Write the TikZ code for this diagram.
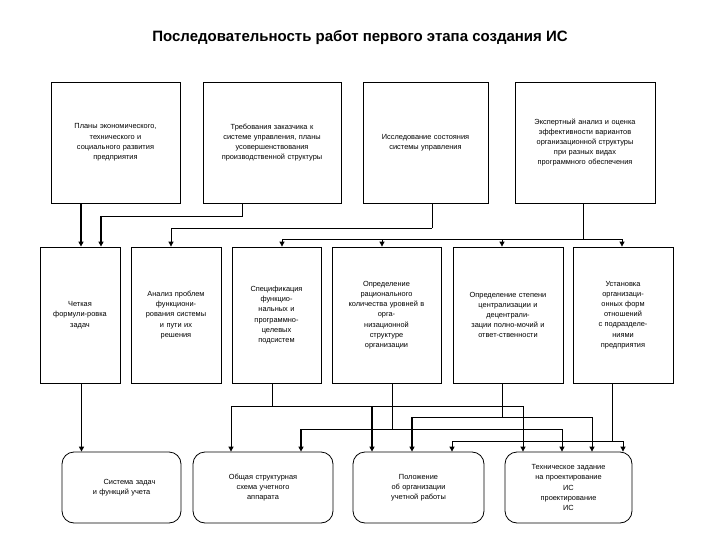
\documentclass[tikz,border=0pt]{standalone}
\usepackage{fontspec}
\setmainfont{Liberation Sans}
\usetikzlibrary{arrows.meta}
\begin{document}
\begin{tikzpicture}[x=1pt,y=-1pt,
  box/.style={draw,line width=0.8pt,align=center,inner sep=2pt,font=\fontsize{7.4}{10.2}\selectfont},
  rbox/.style={box,rounded corners=12pt},
  ln/.style={line width=0.8pt},
  ar/.style={ln,-{Triangle[length=5pt,width=5pt]}},
  tar/.style={ar,line width=1.6pt}]
\useasboundingbox (0,0) rectangle (720,540);
\fill[white] (0,0) rectangle (720,540);
\node[font=\bfseries\fontsize{15}{17}\selectfont] (title) at (360,38) {Последовательность работ первого этапа создания ИС};
% top boxes
\node[box,minimum width=129pt,minimum height=121pt,text width=120pt] (b1) at (115.5,142.5) {Планы экономического,\\технического и\\социального развития\\предприятия};
\node[box,minimum width=138pt,minimum height=121pt,text width=130pt] (b2) at (272,142.5) {Требования заказчика к\\системе управления, планы\\усовершенствования\\производственной структуры};
\node[box,minimum width=125pt,minimum height=121pt,text width=118pt] (b3) at (425.5,142.5) {Исследование состояния\\системы управления};
\node[box,minimum width=140pt,minimum height=121pt,text width=132pt] (b4) at (585,142.5) {Экспертный анализ и оценка\\эффективности вариантов\\организационной структуры\\при разных видах\\программного обеспечения};
% middle boxes
\node[box,minimum width=80pt,minimum height=136pt,text width=76pt] (m1) at (80,315) {Четкая\\формули-ровка\\задач};
\node[box,minimum width=90pt,minimum height=136pt,text width=84pt] (m2) at (176,315) {Анализ проблем\\функциони-\\рования системы\\и пути их\\решения};
\node[box,minimum width=89pt,minimum height=136pt,text width=84pt] (m3) at (276.5,315) {Спецификация\\функцио-\\нальных и\\программно-\\целевых\\подсистем};
\node[box,minimum width=109pt,minimum height=136pt,text width=104pt] (m4) at (386.5,315) {Определение\\рационального\\количества уровней в\\орга-\\низационной\\структуре\\организации};
\node[box,minimum width=110pt,minimum height=136pt,text width=104pt] (m5) at (508,315) {Определение степени\\централизации и\\децентрали-\\зации полно-мочий и\\ответ-ственности};
\node[box,minimum width=100pt,minimum height=136pt,text width=94pt] (m6) at (623,315) {Установка\\организаци-\\онных форм\\отношений\\с подразделе-\\ниями\\предприятия};
% bottom boxes
\node[rbox,minimum width=119pt,minimum height=71pt,text width=110pt] (c1) at (121.5,487.5) {\hspace*{16pt}Система задач\\и функций учета};
\node[rbox,minimum width=140pt,minimum height=71pt,text width=130pt] (c2) at (263,487.5) {Общая структурная\\схема учетного\\аппарата};
\node[rbox,minimum width=131pt,minimum height=71pt,text width=122pt] (c3) at (418.5,487.5) {Положение\\об организации\\учетной работы};
\node[rbox,minimum width=127pt,minimum height=71pt,text width=118pt] (c4) at (568.5,487.5) {Техническое задание\\на проектирование\\ИС\\проектирование\\ИС};
% bus coordinates
\coordinate (j2) at (242,216);
\coordinate (j3) at (432,228);
\coordinate (j4) at (583,239);
% top -> middle
\draw[tar] (b1.south -| 81,0) -- (m1.north -| 81,0);
\draw[ln] (b2.south -| j2) |- (101,216);
\draw[tar] (101,216) -- (m1.north -| 101,0);
\draw[ln] (b3.south -| j3) -- (j3);
\draw[ar] (j3) -| (m2.north -| 171,0);
\draw[ln] (b4.south -| j4) -- (j4);
\draw[ar] (j4) -| (m3.north -| 282,0);
\draw[ar] (j4) -| (m6.north -| 622,0);
\draw[ar] (382,239) -- (m4.north -| 382,0);
\draw[ar] (502,239) -- (m5.north -| 502,0);
% middle -> bottom
\coordinate (k3) at (272,406);
\coordinate (k4) at (392,429);
\coordinate (k5) at (502,417);
\coordinate (k6) at (612,441);
\draw[tar] (m1.south -| 81.5,0) -- (c1.north -| 81.5,0);
\draw[ln] (m3.south -| k3) -- (k3);
\draw[ar] (k3) -| (c2.north -| 231,0);
\draw[ar] (k3) -| (c4.north -| 523,0);
\draw[tar] (372,406) -- (c3.north -| 372,0);
\draw[ln] (m4.south -| k4) |- (301,429);
\draw[tar] (301,429) -- (c2.north -| 301,0);
\draw[ar] (k4) -| (c4.north -| 562,0);
\draw[ln] (m5.south -| k5) |- (412,417);
\draw[tar] (412,417) -- (c3.north -| 412,0);
\draw[ar] (k5) -| (c4.north -| 592,0);
\draw[ln] (m6.south -| k6) -- (k6);
\draw[ar] (k6) -| (c3.north -| 452,0);
\draw[ar] (k6) -| (c4.north -| 623,0);
\end{tikzpicture}
\end{document}
